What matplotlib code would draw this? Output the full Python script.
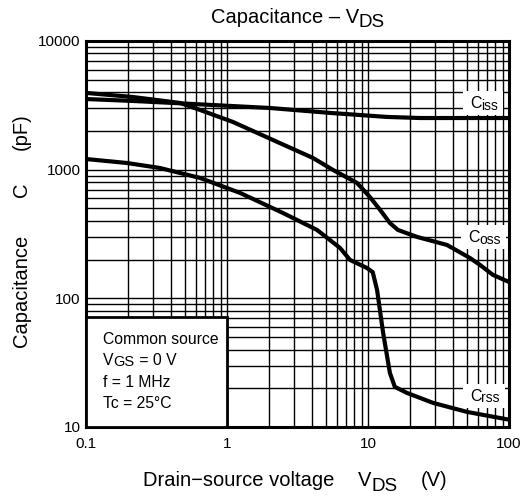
import matplotlib.pyplot as plt
from matplotlib.patches import Rectangle
from matplotlib.ticker import FixedLocator, FixedFormatter, LogLocator, NullFormatter

plt.rcParams['font.family'] = ['Liberation Sans', 'DejaVu Sans']

# Ciss
vds_iss = [0.1, 0.215, 0.414, 2.02, 5.4, 13.6, 23.4, 100]
c_iss = [3540, 3420, 3300, 3015, 2760, 2570, 2520, 2520]

# Coss
vds_oss = [0.1, 0.215, 0.465, 0.645, 1.10, 2.12, 4.07, 5.65, 8.36, 10.3, 12.2,
           14.3, 16.3, 22.3, 36.3, 52.8, 62.2, 77, 100]
c_oss = [3950, 3670, 3300, 2910, 2350, 1700, 1233, 995, 789, 614, 486,
         385, 340, 300, 260, 206, 182, 152, 134]

# Crss
vds_rss = [0.1, 0.195, 0.335, 0.645, 1.24, 2.49, 4.35, 6.32, 7.45, 9.84, 10.8,
           11.6, 12.8, 14.3, 15.5, 18.9, 28.9, 50.4, 100]
c_rss = [1210, 1127, 1030, 862, 659, 461, 340, 247, 199, 172, 160,
         116, 54, 26.3, 20.5, 18.4, 15.4, 13.1, 11.4]

x_ticks = [0.1, 1, 10, 100]
x_labels = ['0.1', '1', '10', '100']
y_ticks = [10, 100, 1000, 10000]
y_labels = ['10', '100', '1000', '10000']

W, H = 525, 499
fig = plt.figure(figsize=(W / 100, H / 100), dpi=100)
rend = fig.canvas.get_renderer()


def put_runs(x, y, runs, ha='left'):
    # x in px from left, y = baseline in px from top; numbers in runs are gaps in px
    items = []
    for r in runs:
        if isinstance(r, (int, float)):
            items.append((None, r, 0))
            continue
        s, size, dy = r
        t = fig.text(0, 0, s, fontsize=size, va='baseline', ha='left', zorder=5)
        items.append((t, t.get_window_extent(renderer=rend).width, dy))
    total = sum(w for _, w, _ in items)
    x0 = x - total / 2 if ha == 'center' else x
    left = x0
    for t, w, dy in items:
        if t is not None:
            t.set_position((x0 / W, (H - y - dy) / H))
        x0 += w
    return left, x0


ax = fig.add_axes([86 / W, 1 - 427 / H, 423 / W, 386 / H])
ax.set_xscale('log')
ax.set_yscale('log')
ax.set_xlim(0.1, 100)
ax.set_ylim(10, 10000)

ax.xaxis.set_major_locator(FixedLocator(x_ticks))
ax.xaxis.set_major_formatter(FixedFormatter(x_labels))
ax.yaxis.set_major_locator(FixedLocator(y_ticks))
ax.yaxis.set_major_formatter(FixedFormatter(y_labels))
ax.xaxis.set_minor_locator(LogLocator(base=10, subs=range(2, 10)))
ax.yaxis.set_minor_locator(LogLocator(base=10, subs=range(2, 10)))
ax.xaxis.set_minor_formatter(NullFormatter())
ax.yaxis.set_minor_formatter(NullFormatter())
ax.grid(True, which='both', color='black', linewidth=1.0)
ax.tick_params(which='both', length=0, labelsize=11)
ax.tick_params(axis='x', pad=7)
ax.tick_params(axis='y', pad=4)
for s in ax.spines.values():
    s.set_linewidth(2.2)

ax.plot(vds_iss, c_iss, color='black', linewidth=3.0)
ax.plot(vds_oss, c_oss, color='black', linewidth=3.0)
ax.plot(vds_rss, c_rss, color='black', linewidth=3.0)

# condition box (0.1..1 V, up to ~72 pF)
ax.add_patch(Rectangle((0.1, 10), 0.9, 61.6, facecolor='white', edgecolor='black',
                       linewidth=2, zorder=3))
put_runs(103, 344, [('Common source', 11.3, 0)])
put_runs(103, 365, [('V', 11.3, 0), ('GS', 10.5, 1.5), (' = 0 V', 11.3, 0)])
put_runs(103, 387, [('f = 1 MHz', 11.3, 0)])
put_runs(103, 408, [('Tc = 25°C', 11.3, 0)])

# curve labels on white patches
for cx, cy, sub in [(470, 108, 'iss'), (468, 242, 'oss'), (470, 401, 'rss')]:
    l, r = put_runs(cx, cy, [('C', 11.5, 0), (sub, 10, 1.5)])
    fig.add_artist(Rectangle(((l - 7) / W, (H - cy - 7) / H), (r - l + 12) / W, 24 / H,
                             facecolor='white', edgecolor='none', zorder=1))

# title and axis labels
put_runs(298, 23, [('Capacitance – V', 14.5, 0), ('DS', 13.5, 4)], ha='center')
put_runs(143, 486, [('Drain−source voltage', 14.5, 0), 24, ('V', 14.5, 0),
                    ('DS', 13.5, 5), 23, ('(V)', 14.5, 0)])
for s, yc in [('Capacitance', 291), ('C', 190), ('(pF)', 132)]:
    fig.text(27 / W, 1 - yc / H, s, fontsize=14.5, rotation=90,
             rotation_mode='anchor', ha='center', va='baseline')

fig.savefig('out.png', dpi=100)
